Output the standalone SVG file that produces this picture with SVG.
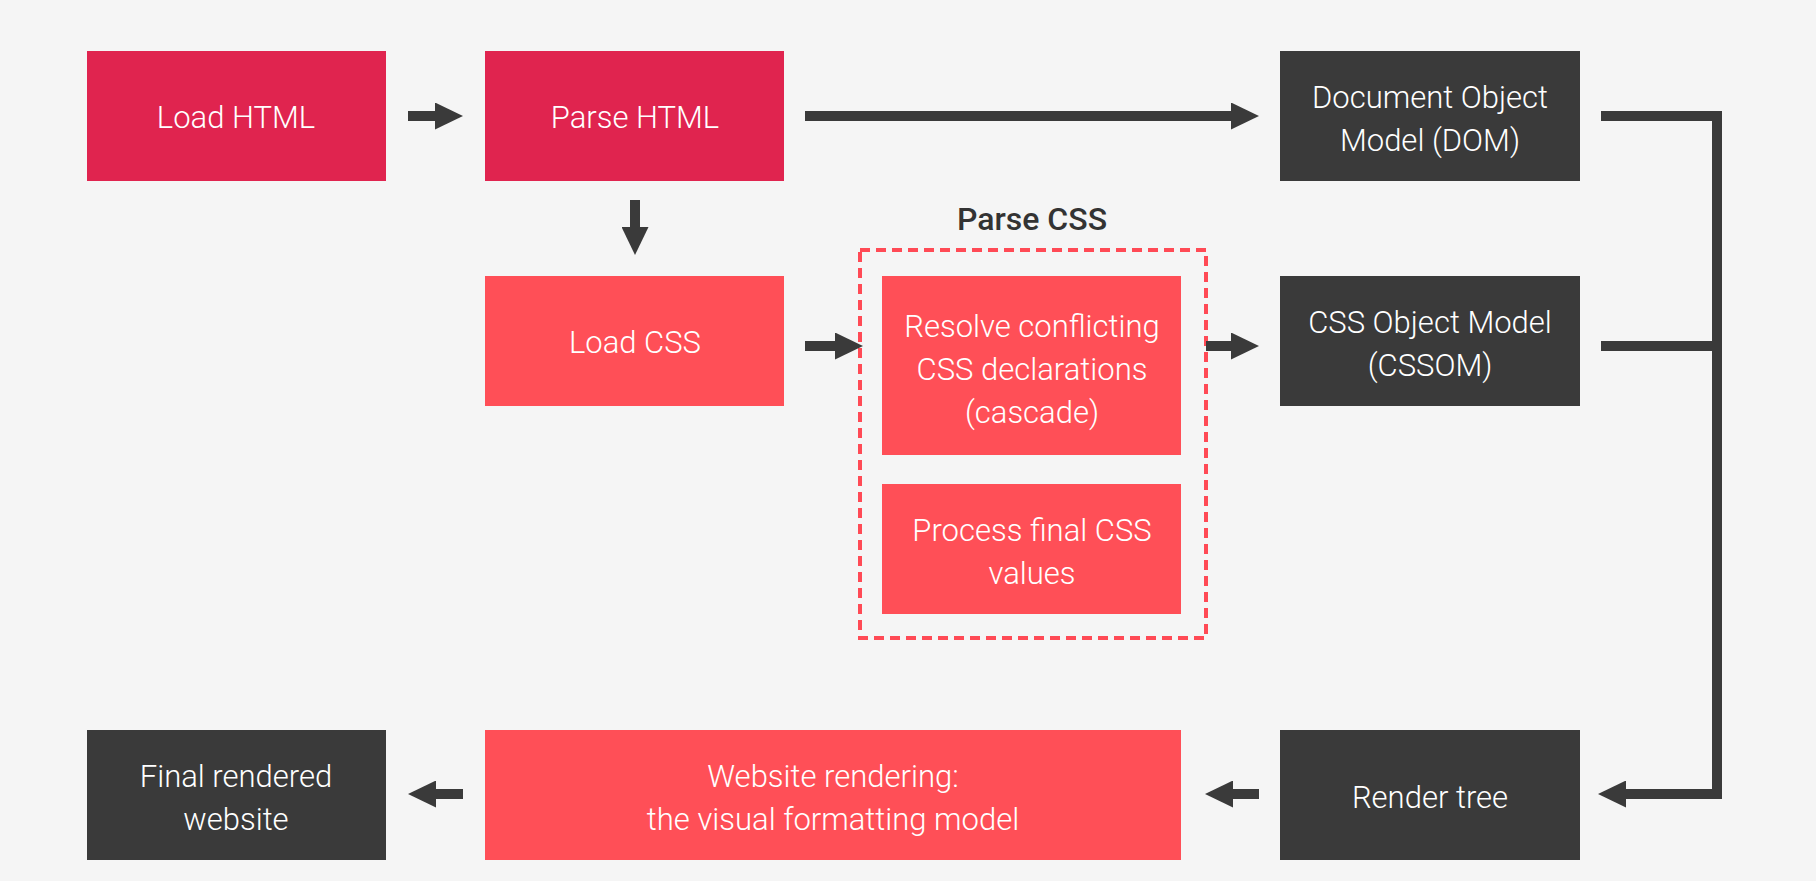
<svg xmlns="http://www.w3.org/2000/svg" width="1816" height="881" viewBox="0 0 1816 881">
  <style>
    .box-crimson { fill: #E0244F; }
    .box-red { fill: #FF4F57; }
    .box-dark { fill: #3A3A3A; }
    .lbl { font-family: Roboto, "Liberation Sans", sans-serif; font-weight: 300; font-size: 31px; fill: #FFFFFF; text-anchor: middle; }
    .title { font-family: Roboto, "Liberation Sans", sans-serif; font-weight: 500; font-size: 32px; fill: #333333; text-anchor: middle; }
    .conn { fill: none; stroke: #3A3A3A; stroke-width: 10; stroke-linejoin: miter; }
    .group-border { fill: none; stroke: #FF4A55; stroke-width: 4; stroke-dasharray: 10 6; }
  </style>
  <defs>
    <marker id="ah" markerUnits="userSpaceOnUse" markerWidth="28" markerHeight="27" viewBox="0 0 28 27" refX="0" refY="13.5" orient="auto">
      <path d="M0,0 L28,13.5 L0,27 Z" fill="#3A3A3A"/>
    </marker>
  </defs>
  <rect width="1816" height="881" fill="#F5F5F5"/>

  <g id="parse-css-group">
    <rect class="group-border" x="860" y="250" width="346" height="388"/>
    <text class="title" x="1032" y="230">Parse CSS</text>
  </g>

  <g id="load-html">
    <rect class="box-crimson" x="87" y="51" width="299" height="130"/>
    <text class="lbl" x="236" y="128">Load HTML</text>
  </g>
  <g id="parse-html">
    <rect class="box-crimson" x="485" y="51" width="299" height="130"/>
    <text class="lbl" x="635" y="128">Parse HTML</text>
  </g>
  <g id="dom">
    <rect class="box-dark" x="1280" y="51" width="300" height="130"/>
    <text class="lbl" x="1430" y="108">Document Object</text>
    <text class="lbl" x="1430" y="151">Model (DOM)</text>
  </g>
  <g id="load-css">
    <rect class="box-red" x="485" y="276" width="299" height="130"/>
    <text class="lbl" x="635" y="353">Load CSS</text>
  </g>
  <g id="resolve">
    <rect class="box-red" x="882" y="276" width="299" height="179"/>
    <text class="lbl" x="1032" y="337">Resolve conflicting</text>
    <text class="lbl" x="1032" y="380">CSS declarations</text>
    <text class="lbl" x="1032" y="423">(cascade)</text>
  </g>
  <g id="process">
    <rect class="box-red" x="882" y="484" width="299" height="130"/>
    <text class="lbl" x="1032" y="541">Process final CSS</text>
    <text class="lbl" x="1032" y="584">values</text>
  </g>
  <g id="cssom">
    <rect class="box-dark" x="1280" y="276" width="300" height="130"/>
    <text class="lbl" x="1430" y="333">CSS Object Model</text>
    <text class="lbl" x="1430" y="376">(CSSOM)</text>
  </g>
  <g id="final">
    <rect class="box-dark" x="87" y="730" width="299" height="130"/>
    <text class="lbl" x="236" y="787">Final rendered</text>
    <text class="lbl" x="236" y="830">website</text>
  </g>
  <g id="website-rendering">
    <rect class="box-red" x="485" y="730" width="696" height="130"/>
    <text class="lbl" x="833" y="787">Website rendering:</text>
    <text class="lbl" x="833" y="830">the visual formatting model</text>
  </g>
  <g id="render-tree">
    <rect class="box-dark" x="1280" y="730" width="300" height="130"/>
    <text class="lbl" x="1430" y="808">Render tree</text>
  </g>

  <g id="connectors">
    <path class="conn" d="M408,116 H435" marker-end="url(#ah)"/>
    <path class="conn" d="M805,116 H1231" marker-end="url(#ah)"/>
    <path class="conn" d="M635,200 V227" marker-end="url(#ah)"/>
    <path class="conn" d="M805,346 H835" marker-end="url(#ah)"/>
    <path class="conn" d="M1206,346 H1231" marker-end="url(#ah)"/>
    <path class="conn" d="M1259,794 H1233" marker-end="url(#ah)"/>
    <path class="conn" d="M463,794 H436" marker-end="url(#ah)"/>
    <path class="conn" d="M1601,116 H1717 V794 H1626" marker-end="url(#ah)"/>
    <path class="conn" d="M1601,346 H1717"/>
  </g>
</svg>
